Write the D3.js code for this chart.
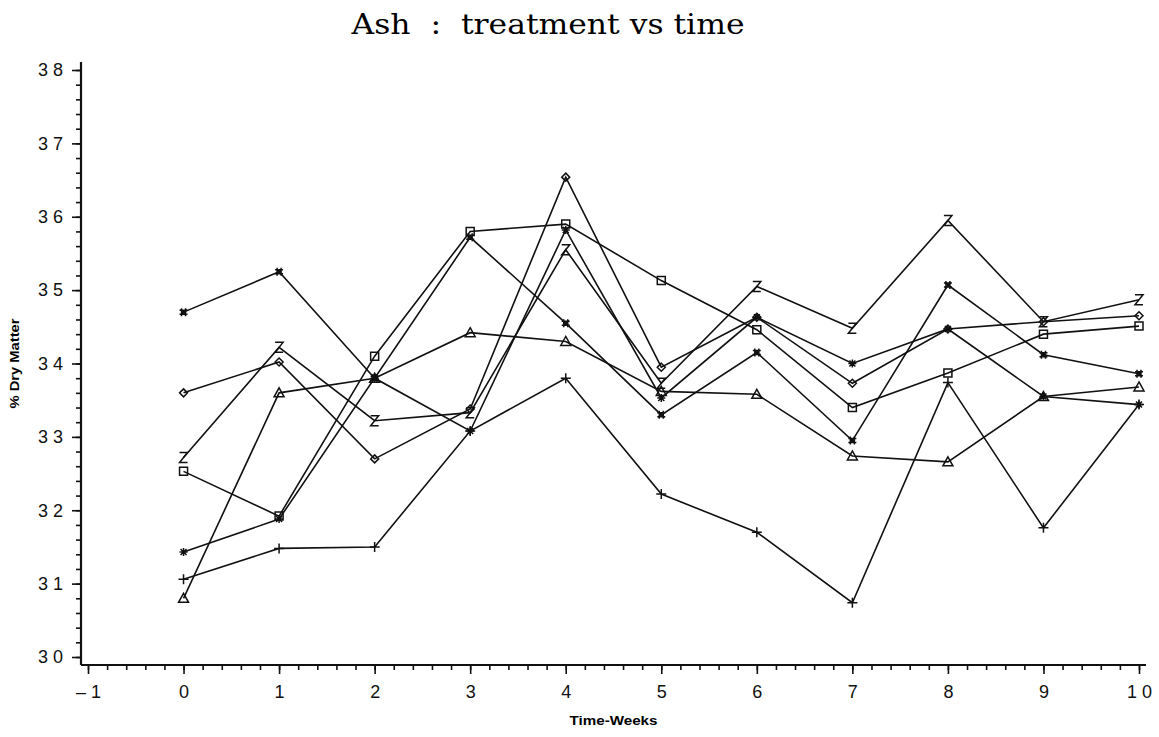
<!DOCTYPE html>
<html>
<head>
<meta charset="utf-8">
<script src="https://cdn.jsdelivr.net/npm/d3@7"></script>
<style>
  body { margin: 0; background: #fff; }
  .tick text { font-family: "Liberation Sans", Arial, sans-serif; font-size: 18px; fill: #111; }
  .domain { display: none; }
  .tick line { stroke: #111; stroke-width: 1.6; }
  .series { fill: none; stroke: #111; stroke-width: 1.6; }
  .mark { fill: none; stroke: #111; stroke-width: 1.5; }
</style>
</head>
<body>
<svg width="1159" height="737"></svg>
<script>
// weeks on x
var weeks = [0, 1, 2, 3, 4, 5, 6, 7, 8, 9, 10];

// % dry matter per treatment, one array per plot symbol
var hashVals     = [34.70, 35.25, 33.80, 35.72, 34.55, 33.30, 34.15, 32.95, 35.07, 34.12, 33.86];
var starVals     = [31.43, 31.88, 33.80, 33.08, 35.82, 33.53, 34.63, 34.00, 34.47, 33.55, 33.44];
var diamondVals  = [33.60, 34.02, 32.70, 33.38, 36.54, 33.95, 34.63, 33.73, 34.47, 34.57, 34.65];
var zVals        = [32.72, 34.22, 33.22, 33.33, 35.55, 33.73, 35.05, 34.48, 35.95, 34.57, 34.87];
var squareVals   = [32.53, 31.92, 34.10, 35.80, 35.90, 35.13, 34.46, 33.40, 33.87, 34.40, 34.51];
var plusVals     = [31.06, 31.48, 31.50, 33.08, 33.80, 32.22, 31.70, 30.74, 33.74, 31.76, 33.44];
var triangleVals = [30.80, 33.60, 33.80, 34.42, 34.30, 33.62, 33.58, 32.74, 32.66, 33.55, 33.68];

var xTicks = [-1, 0, 1, 2, 3, 4, 5, 6, 7, 8, 9, 10];
var yTicks = [30, 31, 32, 33, 34, 35, 36, 37, 38];

var series = [
  {sym: "hash", vals: hashVals},
  {sym: "star", vals: starVals},
  {sym: "diamond", vals: diamondVals},
  {sym: "z", vals: zVals},
  {sym: "square", vals: squareVals},
  {sym: "plus", vals: plusVals},
  {sym: "triangle", vals: triangleVals}
];

var svg = d3.select("svg");

var x = d3.scaleLinear().domain([-1, 10]).range([88, 1139]);
var y = d3.scaleLinear().domain([30, 38]).range([657, 70]);

var axisX = 81, axisY = 665;

// spaced digits like the old plotter font: "3 8", "– 1"
function spaced(d) { return String(d).replace("-", "\u2013").split("").join(" "); }

// minor ticks (5 per unit)
var xMinor = d3.range(-1, 10.001, 0.2).map(function(v) { return Math.round(v * 10) / 10; });
var yMinor = d3.range(30, 38.001, 0.2).map(function(v) { return Math.round(v * 10) / 10; });

svg.append("g")
    .attr("transform", "translate(0," + axisY + ")")
    .call(d3.axisBottom(x).tickValues(xMinor).tickSize(5).tickFormat(""));

svg.append("g")
    .attr("transform", "translate(0," + axisY + ")")
    .call(d3.axisBottom(x).tickValues(xTicks).tickSize(9).tickPadding(11).tickFormat(spaced));

svg.append("g")
    .attr("transform", "translate(" + axisX + ",0)")
    .call(d3.axisLeft(y).tickValues(yMinor).tickSize(5).tickFormat(""));

svg.append("g")
    .attr("transform", "translate(" + axisX + ",0)")
    .call(d3.axisLeft(y).tickValues(yTicks).tickSize(9).tickPadding(9).tickFormat(spaced));

// axis lines
svg.append("line")
    .attr("x1", axisX).attr("x2", x(10) + 7)
    .attr("y1", axisY).attr("y2", axisY)
    .attr("stroke", "#111").attr("stroke-width", 2.2);
svg.append("line")
    .attr("x1", axisX).attr("x2", axisX)
    .attr("y1", y(38) - 8).attr("y2", axisY)
    .attr("stroke", "#111").attr("stroke-width", 2.2);

// titles
svg.append("text")
    .attr("x", 548).attr("y", 34)
    .attr("text-anchor", "middle")
    .attr("textLength", 393)
    .attr("lengthAdjust", "spacingAndGlyphs")
    .style("font-family", "'DejaVu Serif', serif")
    .style("font-size", "27px")
    .attr("xml:space", "preserve")
    .text("Ash  :  treatment vs time");

svg.append("text")
    .attr("x", x(4.5)).attr("y", 725)
    .attr("text-anchor", "middle")
    .attr("textLength", 88)
    .attr("lengthAdjust", "spacingAndGlyphs")
    .style("font-family", "'Liberation Sans', Arial, sans-serif")
    .style("font-size", "13px")
    .style("font-weight", "bold")
    .text("Time-Weeks");

svg.append("text")
    .attr("transform", "translate(19," + ((y(30) + y(38)) / 2) + ") rotate(-90)")
    .attr("text-anchor", "middle")
    .attr("textLength", 90)
    .attr("lengthAdjust", "spacingAndGlyphs")
    .style("font-family", "'Liberation Sans', Arial, sans-serif")
    .style("font-size", "13px")
    .style("font-weight", "bold")
    .text("% Dry Matter");

// symbol paths
var symbols = {
  hash: "M-2,-4V4M2,-4V4M-4,-2H4M-4,2H4M-3,-3L3,3M3,-3L-3,3",
  star: "M0,-4V4M-4,0H4M-3,-3L3,3M3,-3L-3,3",
  diamond: "M0,-4L4,0L0,4L-4,0Z",
  z: "M-4,-5H4L-4,5H4",
  square: "M-4,-4H4V4H-4Z",
  plus: "M0,-5V5M-5,0H5",
  triangle: "M0,-5L5,4H-5Z"
};

var line = d3.line()
    .x(function(d, i) { return x(weeks[i]); })
    .y(function(d) { return y(d); });

series.forEach(function(s) {
  svg.append("path")
      .attr("class", "series")
      .attr("d", line(s.vals));

  svg.selectAll(null)
      .data(s.vals)
      .enter()
    .append("path")
      .attr("class", "mark")
      .attr("stroke-width", s.sym === "hash" ? 2 : 1.5)
      .attr("transform", function(d, i) { return "translate(" + x(weeks[i]) + "," + y(d) + ")"; })
      .attr("d", symbols[s.sym]);
});
</script>
</body>
</html>
